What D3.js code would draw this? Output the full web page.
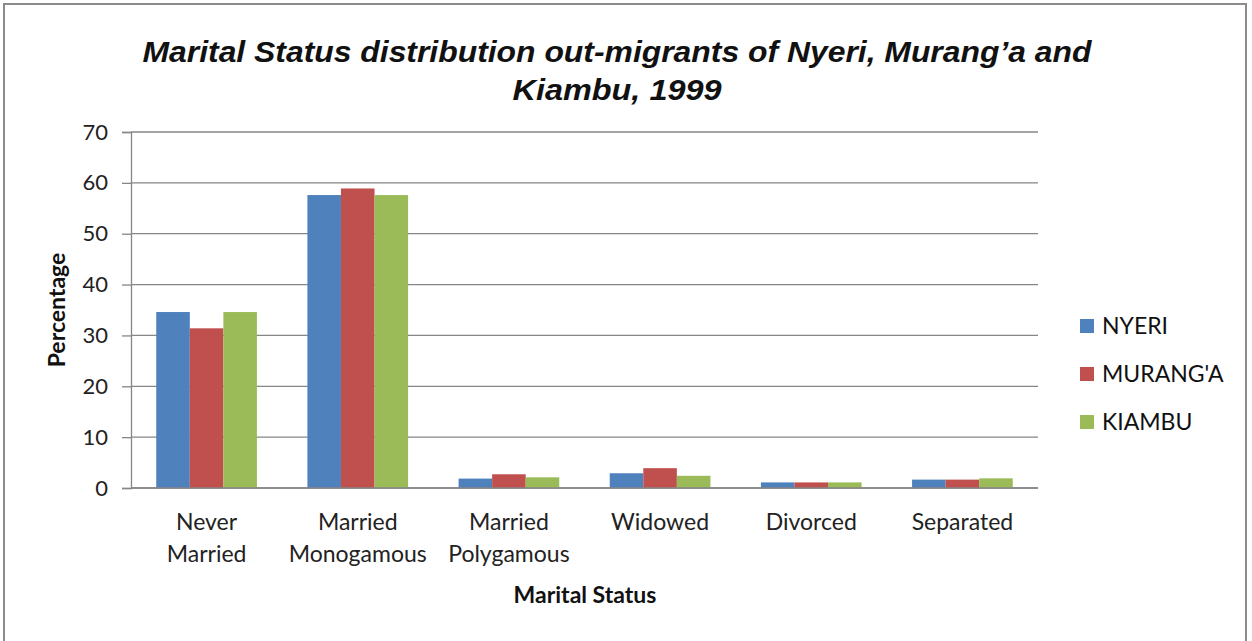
<!DOCTYPE html>
<html>
<head>
<meta charset="utf-8">
<script src="https://cdn.jsdelivr.net/npm/d3@7"></script>
<style>
  body { margin: 0; background: #fff; }
  svg { display: block; }
  .tick text { font-family: Lato, "Open Sans", sans-serif; }
</style>
</head>
<body>
<svg id="chart" width="1252" height="641"></svg>
<script>
// data
const categories = ["Never Married", "Married Monogamous", "Married Polygamous", "Widowed", "Divorced", "Separated"];
const series = ["NYERI", "MURANG'A", "KIAMBU"];
const nyeri   = [34.6, 57.6, 1.85, 2.9, 1.1, 1.65];
const muranga = [31.4, 58.9, 2.7, 3.9, 1.1, 1.65];
const kiambu  = [34.6, 57.6, 2.1, 2.4, 1.1, 1.9];
const yTicks = [0, 10, 20, 30, 40, 50, 60, 70];
const colors = ["#4F81BD", "#C0504D", "#9BBB59"];

const values = [nyeri, muranga, kiambu];
const rows = categories.map((c, i) => ({
  cat: c,
  vals: series.map((s, j) => ({ key: s, value: values[j][i] }))
}));

const svg = d3.select("#chart");

// frame
svg.append("rect")
  .attr("x", 4).attr("y", 4)
  .attr("width", 1242).attr("height", 645)
  .attr("fill", "none")
  .attr("stroke", "#8c8c8c")
  .attr("stroke-width", 2);

const margin = { top: 132, left: 131, right: 1038, bottom: 488 };

const x0 = d3.scaleBand()
  .domain(categories)
  .range([margin.left, margin.right])
  .paddingInner(0.334)
  .paddingOuter(0.167);

const x1 = d3.scaleBand()
  .domain(series)
  .range([0, x0.bandwidth()]);

const y = d3.scaleLinear()
  .domain([0, 70])
  .range([margin.bottom, margin.top]);

const color = d3.scaleOrdinal().domain(series).range(colors);

// gridlines
svg.append("g")
  .selectAll("line")
  .data(yTicks)
  .join("line")
  .attr("x1", margin.left)
  .attr("x2", margin.right)
  .attr("y1", d => y(d))
  .attr("y2", d => y(d))
  .attr("stroke", "#868686")
  .attr("stroke-width", 1.3);

// bars
svg.append("g")
  .selectAll("g")
  .data(rows)
  .join("g")
  .attr("transform", d => translate(x0(d.cat), 0))
  .selectAll("rect")
  .data(d => d.vals)
  .join("rect")
  .attr("x", d => x1(d.key))
  .attr("y", d => y(d.value))
  .attr("width", x1.bandwidth())
  .attr("height", d => y(0) - y(d.value))
  .attr("fill", d => color(d.key));

// y axis
const yAxis = svg.append("g")
  .attr("transform", translate(margin.left, 0))
  .call(d3.axisLeft(y).tickValues(yTicks).tickSize(9).tickPadding(14));
yAxis.select(".domain").attr("stroke", "#868686").attr("stroke-width", 1.3);
yAxis.selectAll(".tick line").attr("stroke", "#868686").attr("stroke-width", 1.3);
yAxis.selectAll("text").attr("font-size", 22).attr("fill", "#222");

// baseline on top of bars
svg.append("line")
  .attr("x1", margin.left).attr("x2", margin.right)
  .attr("y1", y(0)).attr("y2", y(0))
  .attr("stroke", "#868686").attr("stroke-width", 1.5);

// x axis labels (two lines)
const xLab = svg.append("g");
categories.forEach(c => {
  const words = c.split(" ");
  const t = xLab.append("text")
    .attr("text-anchor", "middle")
    .attr("font-family", "Lato, 'Open Sans', sans-serif")
    .attr("font-size", 23)
    .attr("fill", "#222");
  words.forEach((w, k) => {
    t.append("tspan")
      .attr("x", x0(c) + x0.bandwidth() / 2)
      .attr("y", 530 + k * 32)
      .text(w);
  });
});

// axis titles
svg.append("text")
  .attr("transform", translate(65, 310) + " rotate(-90)")
  .attr("text-anchor", "middle")
  .attr("font-family", "Lato, 'Open Sans', sans-serif")
  .attr("font-weight", "bold")
  .attr("font-size", 23)
  .attr("fill", "#111")
  .text("Percentage");

svg.append("text")
  .attr("x", 585).attr("y", 603)
  .attr("text-anchor", "middle")
  .attr("font-family", "Lato, 'Open Sans', sans-serif")
  .attr("font-weight", "bold")
  .attr("font-size", 23)
  .attr("fill", "#111")
  .text("Marital Status");

// title
const titleLines = ["Marital Status distribution out-migrants of Nyeri, Murang\u2019a and", "Kiambu, 1999"];
const titleWidths = [949, 209];
titleLines.forEach((l, i) => {
  svg.append("text")
    .attr("x", 617).attr("y", 62 + i * 38)
    .attr("text-anchor", "middle")
    .attr("font-family", "'Liberation Sans', Arial, sans-serif")
    .attr("font-weight", "bold")
    .attr("font-style", "italic")
    .attr("font-size", 29)
    .attr("textLength", titleWidths[i])
    .attr("lengthAdjust", "spacingAndGlyphs")
    .attr("fill", "#111")
    .text(l);
});

// legend
const legend = svg.append("g")
  .selectAll("g")
  .data(series)
  .join("g")
  .attr("transform", (d, i) => translate(1080, 326 + i * 48));
legend.append("rect")
  .attr("x", 0).attr("y", -7)
  .attr("width", 14).attr("height", 14)
  .attr("fill", d => color(d));
legend.append("text")
  .attr("x", 22).attr("y", 8)
  .attr("font-family", "Lato, 'Open Sans', sans-serif")
  .attr("font-size", 23)
  .attr("fill", "#111")
  .text(d => d);

function translate(x, y) {
  return "translate(" + x + "," + y + ")";
}
</script>
</body>
</html>
